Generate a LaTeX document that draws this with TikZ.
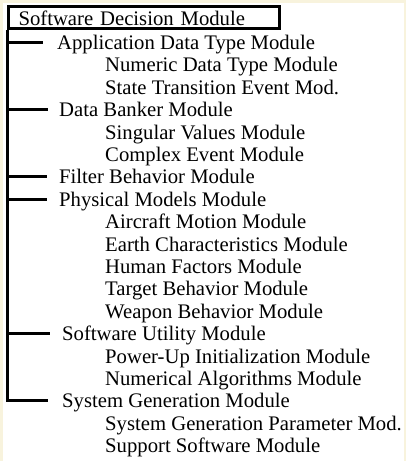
\documentclass[tikz,border=0pt]{standalone}
\usepackage{fontspec}
\setmainfont{Liberation Serif}
\definecolor{cream}{RGB}{248,243,221}
\begin{document}
\begin{tikzpicture}[x=1pt,y=-1pt,
  every node/.style={font=\fontsize{20.7}{22}\selectfont},
  item/.style={anchor=west,inner sep=0pt,text height=13.8pt,text depth=0pt},
  rootbox/.style={draw,line width=3pt,anchor=north west,inner xsep=10pt,inner ysep=0pt,
    minimum width=271pt,minimum height=22pt,text width=251pt,align=left,
    text height=17pt,text depth=0pt},
  conn/.style={line width=3pt}]
\fill[cream] (0,0) rectangle (406,461);
\fill[white] (3,3) rectangle (404,461);
\useasboundingbox (0,0) rectangle (406,461);
\def\dy{22.4}
\node[rootbox] (root) at (7,4.5) {Software Decision Module};
% level 1
\node[item] (app) at (57,42.5) {Application Data Type Module};
\node[item] (db) at (59,42.5+3*\dy) {Data Banker Module};
\node[item] (fb) at (59,42.5+6*\dy) {Filter Behavior Module};
\node[item] (pm) at (59,42.5+7*\dy) {Physical Models Module};
\node[item] (su) at (62,42.5+13*\dy) {Software Utility Module};
\node[item] (sg) at (62,42.5+16*\dy) {System Generation Module};
% level 2
\node[item] (ndt) at (105,42.5+1*\dy) {Numeric Data Type Module};
\node[item] (ste) at (105,42.5+2*\dy) {State Transition Event Mod.};
\node[item] (sv) at (105,42.5+4*\dy) {Singular Values Module};
\node[item] (ce) at (105,42.5+5*\dy) {Complex Event Module};
\node[item] (am) at (105,42.5+8*\dy) {Aircraft Motion Module};
\node[item] (ec) at (105,42.5+9*\dy) {Earth Characteristics Module};
\node[item] (hf) at (105,42.5+10*\dy) {Human Factors Module};
\node[item] (tb) at (105,42.5+11*\dy) {Target Behavior Module};
\node[item] (wb) at (105,42.5+12*\dy) {Weapon Behavior Module};
\node[item] (pu) at (105,42.5+14*\dy) {Power-Up Initialization Module};
\node[item] (na) at (105,42.5+15*\dy) {Numerical Algorithms Module};
\node[item] (sgp) at (105,42.5+17*\dy) {System Generation Parameter Mod.};
\node[item] (ss) at (105,42.5+18*\dy) {Support Software Module};
% connectors
\draw[conn] (root.south west) |- ([xshift=-14pt]sg.west);
\draw[conn] (root.south west |- app.west) -- ([xshift=-14pt]app.west);
\draw[conn] (root.south west |- db.west) -- ([xshift=-11pt]db.west);
\draw[conn] (root.south west |- fb.west) -- ([xshift=-12pt]fb.west);
\draw[conn] (root.south west |- pm.west) -- ([xshift=-12pt]pm.west);
\draw[conn] (root.south west |- su.west) -- ([xshift=-12pt]su.west);
\end{tikzpicture}
\end{document}
